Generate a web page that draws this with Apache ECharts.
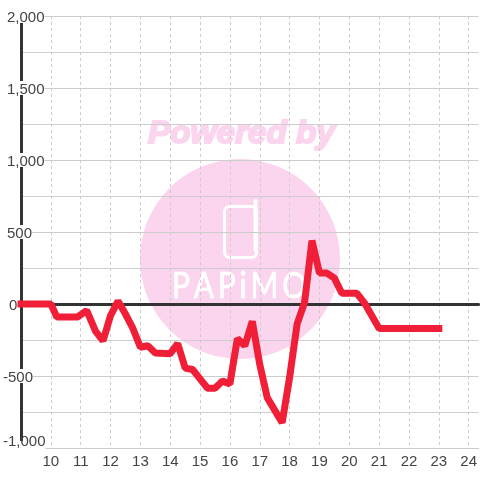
<!DOCTYPE html>
<html>
<head>
<meta charset="utf-8">
<style>
  html, body { margin: 0; padding: 0; background: #fff; }
  #chart { width: 480px; height: 480px; }
</style>
<script src="https://cdn.jsdelivr.net/npm/echarts@6/dist/echarts.min.js"></script>
</head>
<body>
<div id="chart"></div>
<script>
const hours = [9, 10, 10.2, 10.9, 11.2, 11.5, 11.75, 12, 12.25, 12.5, 12.75, 13, 13.25, 13.5, 14, 14.25, 14.5, 14.75, 15, 15.25, 15.5, 15.75, 16, 16.25, 16.5, 16.75, 17, 17.25, 17.75, 18, 18.25, 18.5, 18.75, 19, 19.25, 19.5, 19.75, 20.25, 20.5, 21, 23];
const balance = [0, 0, -90, -90, -45, -190, -255, -80, 20, -70, -170, -300, -290, -340, -345, -275, -445, -455, -520, -585, -585, -535, -555, -240, -290, -120, -420, -650, -825, -510, -140, 10, 440, 215, 215, 180, 75, 75, 10, -170, -170];

const myChart = echarts.init(document.getElementById("chart"), null, { renderer: "canvas" });

const watermark = "#fbd5ee";
const labelColor = "#444";

const option = {
  animation: false,
  grid: { left: 20, right: 0, top: 16, bottom: 32 },
  graphic: [
    { type: "circle", z: -10, shape: { cx: 240, cy: 259, r: 100 }, style: { fill: watermark } },
    {
      type: "text", z: -10, x: 148, y: 118, scaleX: 1.04,
      style: { text: "Powered by", fill: watermark, stroke: watermark, lineWidth: 2, font: "italic bold 32px 'Liberation Sans'" },
    },
    { type: "rect", z: -9, shape: { x: 224.5, y: 206.5, width: 32, height: 51, r: 5 }, style: { fill: "none", stroke: "#fff", lineWidth: 3 } },
    { type: "line", z: -9, shape: { x1: 255.5, y1: 201, x2: 255.5, y2: 250 }, style: { stroke: "#fff", lineWidth: 4, lineCap: "round" } },
    {
      type: "text", z: -9, x: 172, y: 268, scaleY: 1.2,
      style: { text: "P\u2009A\u2009P\u2009i\u2009M\u2009O", fill: "#fff", stroke: "#fff", lineWidth: 0.6, font: "400 30px 'Lato'" },
    },
  ],
  xAxis: [
    {
      type: "value",
      min: 9,
      max: 24.33,
      interval: 1,
      axisLine: { show: true, onZero: false, lineStyle: { color: "#ccc", width: 1 } },
      axisTick: { show: false },
      axisLabel: {
        showMinLabel: false,
        showMaxLabel: false,
        margin: 6,
        fontSize: 15,
        color: labelColor,
        fontFamily: "Liberation Sans",
      },
      splitLine: { show: true, showMaxLine: false, showMinLine: false, lineStyle: { color: "#ccc", type: [3, 3], width: 1 } },
    },
    {
      // 0 的粗线
      type: "value",
      min: 9,
      max: 24.33,
      interval: 1,
      axisLine: { show: true, onZero: true, lineStyle: { color: "#333", width: 3 } },
      axisTick: { show: false },
      axisLabel: { show: false },
      splitLine: { show: false },
    },
  ],
  yAxis: {
    type: "value",
    min: -1000,
    max: 2000,
    interval: 500,
    axisLine: { show: true, onZero: false, lineStyle: { color: "#333", width: 3 } },
    axisTick: { show: false },
    minorTick: { show: false, splitNumber: 2 },
    minorSplitLine: { show: true, lineStyle: { color: "#ccc", width: 1 } },
    splitLine: { show: true, lineStyle: { color: "#ccc", width: 1 } },
    axisLabel: {
      align: "left",
      margin: 18,
      fontSize: 15,
      color: labelColor,
      fontFamily: "Liberation Sans",
      backgroundColor: "#fff",
      formatter: (v) => {
        const text = v.toLocaleString("en-US");
        if (v === -1000) return "{bottom|" + text + "}";
        if (v === 0) return "{zero|" + text + "}";
        return v < 0 ? "{neg|" + text + "}" : "{pos|" + text + "}";
      },
      rich: {
        pos: { padding: [3, 0, 0, 4], fontSize: 15, color: labelColor, lineHeight: 14 },
        zero: { padding: [3, 0, 0, 6], fontSize: 15, color: labelColor, lineHeight: 14 },
        neg: { padding: [3, 0, 0, 0], fontSize: 15, color: labelColor, lineHeight: 14 },
        // 最下面的标签往上挪，盖住左边的灰线
        bottom: { padding: [1, 0, 13, 0], fontSize: 15, color: labelColor, lineHeight: 14 },
      },
    },
  },
  series: [
    {
      type: "line",
      xAxisIndex: 0,
      clip: false,
      data: hours.map((h, i) => [h, balance[i]]),
      showSymbol: false,
      lineStyle: { color: "#f01f37", width: 7, join: "bevel", cap: "square" },
    },
  ],
};

myChart.setOption(option);
</script>
</body>
</html>
